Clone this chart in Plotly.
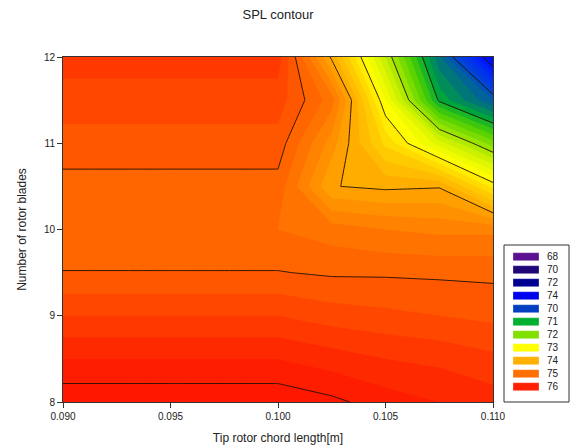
import plotly.graph_objects as go

# ---- data ----
chord = [0.090, 0.095, 0.100, 0.1025, 0.105, 0.1075, 0.110]
blades = [8, 8.5, 9, 9.5, 10, 10.5, 11, 11.5, 12]
spl_8_0 = [76.15, 76.15, 76.15, 76.05, 75.90, 75.80, 75.70]
spl_8_5 = [75.80, 75.80, 75.80, 75.70, 75.60, 75.55, 75.45]
spl_9_0 = [75.40, 75.40, 75.40, 75.30, 75.25, 75.20, 75.15]
spl_9_5 = [75.01, 75.01, 75.01, 74.97, 74.97, 74.96, 74.95]
spl_10_0 = [74.80, 74.80, 74.80, 74.70, 74.60, 74.55, 74.55]
spl_10_5 = [74.92, 74.92, 74.92, 74.01, 73.95, 73.98, 73.13]
spl_11_0 = [75.12, 75.12, 75.12, 74.30, 73.35, 72.50, 71.70]
spl_11_5 = [75.30, 75.30, 75.30, 74.70, 72.80, 70.95, 70.20]
spl_12_0 = [75.50, 75.50, 75.50, 73.95, 72.20, 70.45, 68.65]
spl = [spl_8_0, spl_8_5, spl_9_0, spl_9_5, spl_10_0, spl_10_5,
       spl_11_0, spl_11_5, spl_12_0]

x_ticks = [0.090, 0.095, 0.100, 0.105, 0.110]
x_tick_labels = ["0.090", "0.095", "0.100", "0.105", "0.110"]
y_ticks = [8, 9, 10, 11, 12]

legend_labels = ["68", "70", "72", "74", "70", "71", "72", "73", "74", "75", "76"]
legend_colors = ["#5A1090", "#200878", "#000090", "#0000F0", "#0040C0", "#00B030",
                 "#80E000", "#FFFF00", "#FFB000", "#FF7000", "#FF2000"]

# colour map (SPL value -> colour)
cmap_vals = [68, 69, 69.5, 70, 70.5, 71, 71.5, 72, 72.5, 73, 73.5, 74, 74.5, 75, 75.5, 76, 77]
cmap_cols = ["#0000D0", "#0010FF", "#0030F0", "#0048D0", "#007080", "#00A838", "#50D000",
             "#98E400", "#D8F400", "#FFFF00", "#FFD400", "#FFB000", "#FF8C00", "#FF6A00",
             "#FF4400", "#FF2000", "#FF0000"]
zmin, zmax = 68, 77
colorscale = [[(v - zmin) / (zmax - zmin), c] for v, c in zip(cmap_vals, cmap_cols)]

W, H = 574, 447
L, R, T, B = 63, 81, 57, 45
pw, ph = W - L - R, H - T - B

fig = go.Figure()
fig.add_trace(go.Contour(
    x=chord, y=blades, z=spl, zmin=zmin, zmax=zmax, colorscale=colorscale,
    contours=dict(start=68, end=76.8, size=0.2, coloring="fill", showlines=False),
    line=dict(width=0, smoothing=0), showscale=False, hoverinfo="skip",
))
fig.add_trace(go.Contour(
    x=chord, y=blades, z=spl,
    contours=dict(start=69, end=76, size=1, coloring="none", showlines=True),
    line=dict(color="rgba(30,15,0,0.9)", width=1, smoothing=0),
    showscale=False, hoverinfo="skip",
))

# legend box (custom)
def px_x(p):
    return (p - L) / pw

def px_y(p):
    return (H - B - p) / ph

shapes = [dict(type="rect", xref="paper", yref="paper",
               x0=px_x(504), x1=px_x(569), y0=px_y(402), y1=px_y(245),
               line=dict(color="#333333", width=1), fillcolor="white", layer="above")]
annotations = []
for i, (lab, col) in enumerate(zip(legend_labels, legend_colors)):
    cy = 256.7 + i * 13.0
    shapes.append(dict(type="rect", xref="paper", yref="paper",
                       x0=px_x(513), x1=px_x(539), y0=px_y(cy + 4), y1=px_y(cy - 4),
                       line=dict(color="rgba(255,255,255,0.6)", width=0.5),
                       fillcolor=col, layer="above"))
    annotations.append(dict(xref="paper", yref="paper", x=px_x(545), y=px_y(cy),
                            text=lab, showarrow=False, xanchor="left", yanchor="middle",
                            font=dict(family="Liberation Sans", size=10, color="#222222")))

fig.update_layout(
    width=W, height=H,
    margin=dict(l=L, r=R, t=T, b=B, autoexpand=False),
    paper_bgcolor="white", plot_bgcolor="white",
    title=dict(text="SPL contour", x=(L + pw / 2) / W, xanchor="center",
               y=1 - 14 / H, yanchor="middle",
               font=dict(family="Liberation Sans", size=13, color="#222222")),
    font=dict(family="Liberation Sans", size=10, color="#222222"),
    shapes=shapes, annotations=annotations,
    showlegend=False,
)
fig.update_xaxes(range=[0.090, 0.110], tickvals=x_ticks, ticktext=x_tick_labels,
                 ticks="outside", ticklen=5, tickcolor="#333333", showgrid=False,
                 zeroline=False, showline=True, linecolor="#333333", linewidth=1, mirror=True,
                 automargin=False,
                 title=dict(text="Tip rotor chord length[m]", standoff=12,
                            font=dict(family="Liberation Sans", size=12, color="#222222")),
                 tickfont=dict(size=10))
fig.update_yaxes(range=[8, 12], tickvals=y_ticks, ticks="outside", ticklen=5,
                 tickcolor="#333333", showgrid=False, zeroline=False, showline=True,
                 linecolor="#333333", linewidth=1, mirror=True, automargin=False,
                 title=dict(text="Number of rotor blades", standoff=14,
                            font=dict(family="Liberation Sans", size=12, color="#222222")),
                 tickfont=dict(size=10))

fig.write_html("out.html")
